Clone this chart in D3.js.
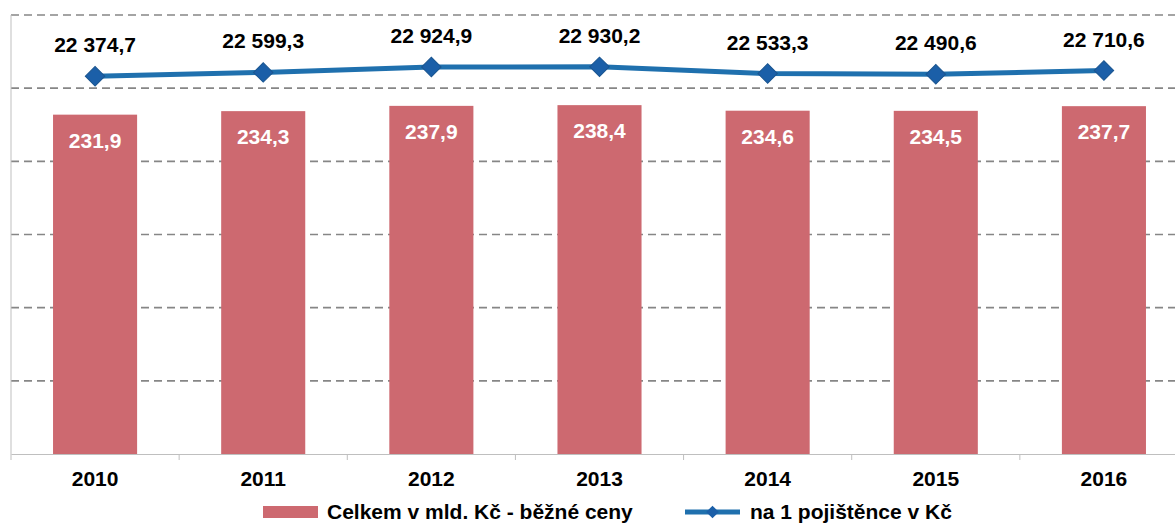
<!DOCTYPE html>
<html>
<head>
<meta charset="utf-8">
<script src="https://cdn.jsdelivr.net/npm/d3@7"></script>
<style>
  body { margin: 0; background: #fff; }
  text { font-family: "Liberation Sans", Arial, sans-serif; font-weight: bold; }
</style>
</head>
<body>
<div id="chart"></div>
<script>
var years = ["2010", "2011", "2012", "2013", "2014", "2015", "2016"];
var totals = [231.9, 234.3, 237.9, 238.4, 234.6, 234.5, 237.7];
var perInsured = [22374.7, 22599.3, 22924.9, 22930.2, 22533.3, 22490.6, 22710.6];
var legendLabels = ["Celkem v mld. Kč - běžné ceny", "na 1 pojištěnce v Kč"];

var svgWidth = 1175;
var svgHeight = 524;

var margin = { top: 15, right: -13, bottom: 70, left: 11 };
var width = svgWidth - margin.left - margin.right;
var height = svgHeight - margin.top - margin.bottom;

var fmt = function(v, dec) {
  var s = d3.format(",." + dec + "f")(v);
  return s.replace(/,/g, " ").replace(".", ",");
};

var svg = d3.select("#chart")
  .append("svg")
  .attr("width", svgWidth)
  .attr("height", svgHeight);

var chartGroup = svg.append("g")
  .attr("transform", `translate(${margin.left}, ${margin.top})`);

var xScale = d3.scaleBand()
  .domain(years)
  .range([0, width])
  .paddingInner(0.5)
  .paddingOuter(0.25);

var yScale = d3.scaleLinear().domain([0, 300]).range([height, 0]);
var y2Scale = d3.scaleLinear().domain([0, 26000]).range([height, 0]);

// gridlines
chartGroup.selectAll(".grid")
  .data(yScale.ticks(6).filter(d => d > 0))
  .enter()
  .append("line")
  .attr("x1", 0)
  .attr("x2", width)
  .attr("y1", d => yScale(d))
  .attr("y2", d => yScale(d))
  .attr("stroke", "#868686")
  .attr("stroke-width", 1.6)
  .attr("stroke-dasharray", "8,5");

// left axis line
chartGroup.append("line")
  .attr("x1", 0).attr("x2", 0)
  .attr("y1", 0).attr("y2", height)
  .attr("stroke", "#bfbfbf");

// bars
chartGroup.selectAll("rect.bar")
  .data(totals)
  .enter()
  .append("rect")
  .attr("class", "bar")
  .attr("x", (d, i) => xScale(years[i]))
  .attr("y", d => yScale(d))
  .attr("width", xScale.bandwidth())
  .attr("height", d => height - yScale(d))
  .attr("fill", "#cd6970");

chartGroup.selectAll("text.barlab")
  .data(totals)
  .enter()
  .append("text")
  .attr("class", "barlab")
  .attr("x", (d, i) => xScale(years[i]) + xScale.bandwidth() / 2)
  .attr("y", d => yScale(d) + 33)
  .attr("text-anchor", "middle")
  .attr("font-size", "21px")
  .attr("fill", "white")
  .text(d => fmt(d, 1));

// bottom axis
var step = xScale.step();
var bottomAxis = d3.axisBottom(xScale).tickSize(0).tickPadding(17);
var axisG = chartGroup.append("g")
  .attr("transform", `translate(0, ${height})`)
  .call(bottomAxis);
axisG.select(".domain").attr("stroke", "#bfbfbf");
axisG.selectAll("text")
  .attr("font-size", "21px")
  .attr("fill", "#000")
  .attr("font-family", "Liberation Sans, Arial, sans-serif")
  .attr("font-weight", "bold");
axisG.selectAll(".boundary")
  .data(d3.range(years.length + 1))
  .enter()
  .append("line")
  .attr("x1", i => i * step)
  .attr("x2", i => i * step)
  .attr("y1", 0)
  .attr("y2", 6)
  .attr("stroke", "#bfbfbf");

// line series
var cx = (d, i) => xScale(years[i]) + xScale.bandwidth() / 2;
var line = d3.line()
  .x(cx)
  .y(d => y2Scale(d));

chartGroup.append("path")
  .datum(perInsured)
  .attr("d", line)
  .attr("fill", "none")
  .attr("stroke", "#1f70ae")
  .attr("stroke-width", 5);

var diamond = d3.symbol().type(d3.symbolSquare).size(190);
chartGroup.selectAll("path.marker")
  .data(perInsured)
  .enter()
  .append("path")
  .attr("class", "marker")
  .attr("d", diamond)
  .attr("transform", (d, i) => `translate(${cx(d, i)}, ${y2Scale(d)}) rotate(45)`)
  .attr("fill", "#1b5fa8")
  .attr("stroke", "#1a5590")
  .attr("stroke-width", 1);

chartGroup.selectAll("text.linelab")
  .data(perInsured)
  .enter()
  .append("text")
  .attr("class", "linelab")
  .attr("x", cx)
  .attr("y", d => y2Scale(d) - 24)
  .attr("text-anchor", "middle")
  .attr("font-size", "21px")
  .attr("fill", "#000")
  .text(d => fmt(d, 1));

// legend (kept just inside the bottom edge)
var legend = svg.append("g").attr("transform", "translate(0, 512)");
legend.append("rect")
  .attr("x", 263).attr("y", -6)
  .attr("width", 55).attr("height", 12)
  .attr("fill", "#cd6970");
legend.append("text")
  .attr("x", 327).attr("y", 7)
  .attr("font-size", "21px")
  .text(legendLabels[0]);

legend.append("line")
  .attr("x1", 685).attr("x2", 740)
  .attr("y1", 0).attr("y2", 0)
  .attr("stroke", "#1f70ae")
  .attr("stroke-width", 5);
legend.append("path")
  .attr("d", d3.symbol().type(d3.symbolSquare).size(80))
  .attr("transform", "translate(712.5, 0) rotate(45)")
  .attr("fill", "#1b5fa8");
legend.append("text")
  .attr("x", 750).attr("y", 7)
  .attr("font-size", "21px")
  .text(legendLabels[1]);
</script>
</body>
</html>
